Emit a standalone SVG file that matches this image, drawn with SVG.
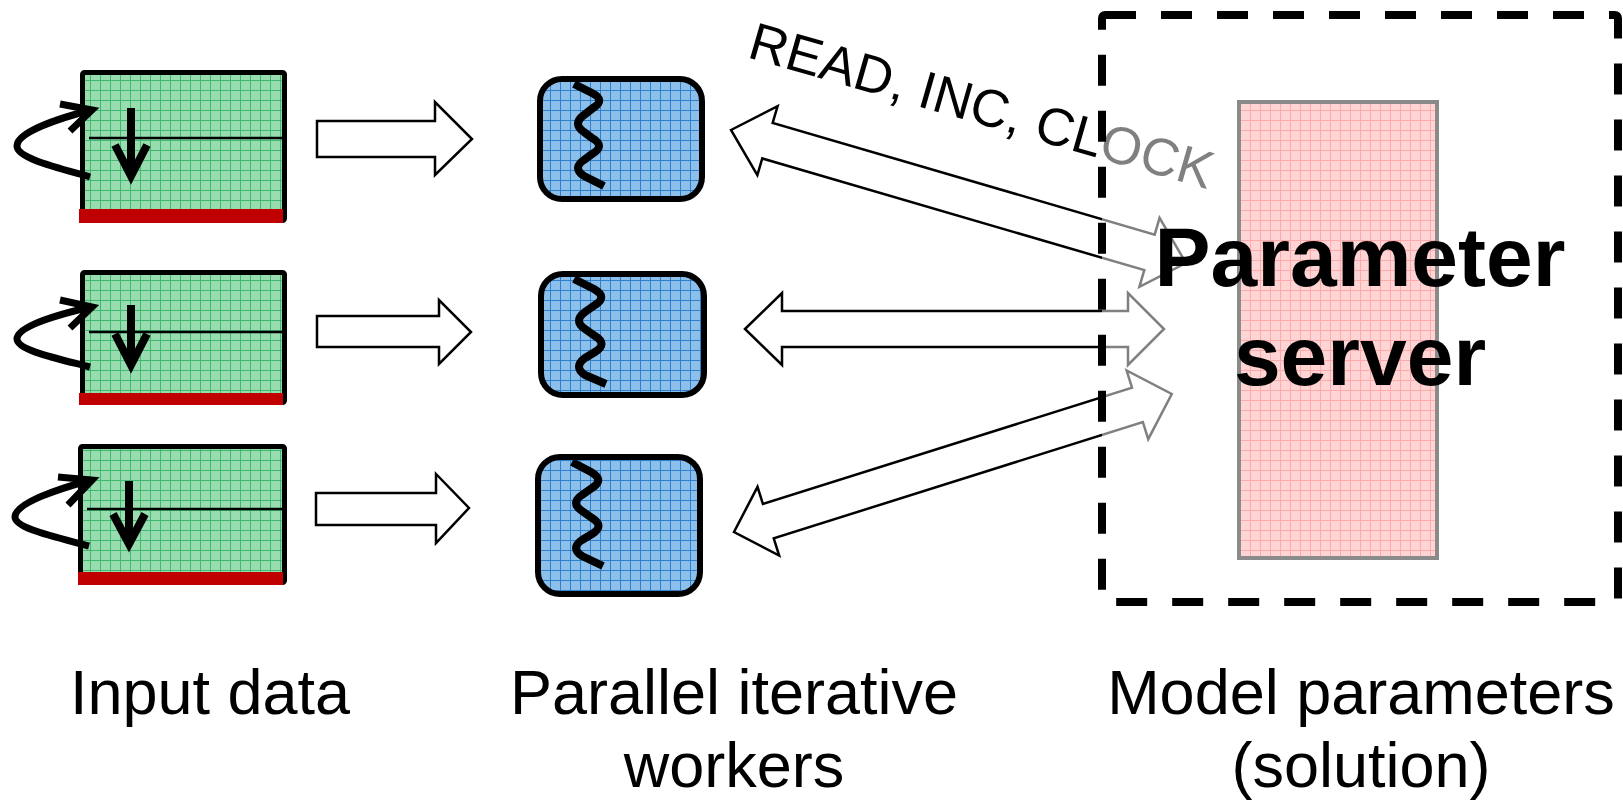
<svg xmlns="http://www.w3.org/2000/svg" width="1623" height="803" viewBox="0 0 1623 803">
<defs>
<pattern id="pg" width="10" height="10" patternUnits="userSpaceOnUse"><rect width="10" height="10" fill="#98dcb0"/><path d="M0,0.5H10M0.5,0V10" stroke="#3fb870" stroke-width="1"/></pattern>
<pattern id="pb" width="10" height="10" patternUnits="userSpaceOnUse"><rect width="10" height="10" fill="#8cbfe9"/><path d="M0,0.5H10M0.5,0V10" stroke="#2f80cc" stroke-width="1"/></pattern>
<pattern id="pp" width="10" height="10" patternUnits="userSpaceOnUse"><rect width="10" height="10" fill="#ffd4d4"/><path d="M0,0.5H10M0.5,0V10" stroke="#ffaaaa" stroke-width="1"/></pattern>
</defs>
<style>
.box{fill:url(#pg);stroke:#000;stroke-width:5}
.red{fill:#c00000}
.thin{stroke:#000;stroke-width:2.5;fill:none}
.loop{stroke:#000;stroke-width:7;fill:none;stroke-linecap:butt}
.down{stroke:#000;stroke-width:8;fill:none;stroke-linejoin:miter}
.worker{fill:url(#pb);stroke:#000;stroke-width:6}
.spring{stroke:#000;stroke-width:8;fill:none;stroke-linejoin:round}
.blk{fill:#fff;stroke:#000;stroke-width:2.5;stroke-linejoin:miter}
.lbl{font-family:"Liberation Sans",Arial,sans-serif;font-size:63px;fill:#000;text-anchor:middle}
</style>

<g id="input1">
<rect class="box" x="82.5" y="72.5" width="202" height="148" rx="2"/>
<rect class="red" x="79" y="209" width="204" height="14"/>
<line class="thin" x1="89" y1="138" x2="285" y2="138"/>
<path class="loop" d="M90,177 C55,167 17,158 17,146 C17,132 60,118 91,110"/>
<path class="loop" d="M60,104 L92,110 L70,131"/>
<path class="down" d="M131,108 V172 M115,145 L131,176 L147,145"/>
</g>
<g id="input2">
<rect class="box" x="82.5" y="272.5" width="202" height="130" rx="2"/>
<rect class="red" x="79" y="393" width="204" height="12"/>
<line class="thin" x1="89" y1="332" x2="285" y2="332"/>
<path class="loop" d="M90,367 C55,358 17,350 17,339 C17,326 60,314 91,307"/>
<path class="loop" d="M60,300 L92,307 L70,328"/>
<path class="down" d="M131,305 V361 M115,334 L131,365 L147,334"/>
</g>
<g id="input3">
<rect class="box" x="80.5" y="446.5" width="204" height="136" rx="2"/>
<rect class="red" x="78" y="572" width="205" height="13"/>
<line class="thin" x1="87" y1="509" x2="284" y2="509"/>
<path class="loop" d="M89,546 C52,536 15,528 15,517 C15,503 58,489 91,480"/>
<path class="loop" d="M58,477 L92,480 L68,505"/>
<path class="down" d="M129,481 V540 M113,514 L129,544 L145,514"/>
</g>

<g id="worker1">
<rect class="worker" x="540" y="79" width="162" height="120" rx="22"/>
<path class="spring" d="M574,84 L592,93 Q606,100 593,108 L584,115 Q572,124 584,132 L592,138 Q606,146 592,154 L584,160 Q572,168 584,176 L604,186"/>
</g>
<g id="worker2">
<rect class="worker" x="541" y="274" width="163" height="121" rx="22"/>
<path class="spring" d="M574,279 L594,289 Q608,297 595,305 L585,312 Q573,321 585,329 L595,336 Q608,344 595,352 L585,358 Q573,367 585,375 L606,384"/>
</g>
<g id="worker3">
<rect class="worker" x="538" y="457" width="162" height="137" rx="22"/>
<path class="spring" d="M572,462 L591,472 Q605,480 592,488 L582,495 Q570,503 582,511 L592,518 Q605,526 592,534 L582,540 Q570,548 582,556 L603,566"/>
</g>

<g id="connectors">
<polygon class="blk" points="317,121 435,121 435,102 472,139 435,175 435,157 317,157"/>
<polygon class="blk" points="317,316 439,316 439,300 471,332 439,364 439,347 317,347"/>
<polygon class="blk" points="316,493 436,493 436,474 469,508 436,543 436,525 316,525"/>
<polygon class="blk" transform="translate(731,130) rotate(16.3)" points="0,0 38,-36 38,-18.5 436,-18.5 436,-36 474,0 436,36 436,18.5 38,18.5 38,36"/>
<polygon class="blk" points="745,329 782,293 782,311 1128,311 1128,293 1164,329 1128,365 1128,347 782,347 782,365"/>
<polygon class="blk" transform="translate(734,532) rotate(-17.5)" points="0,0 36,-36 36,-18 423,-18 423,-36 459,0 423,36 423,18 36,18 36,36"/>
</g>

<text id="ops" transform="translate(746,57) rotate(16)" font-family="Liberation Sans, Arial, sans-serif" font-size="53" fill="#000">READ, INC, CLOCK</text>

<g id="model">
<rect x="1102" y="15" width="516" height="587" rx="3" fill="#fff" fill-opacity="0.5" stroke="#000" stroke-width="8" stroke-dasharray="31 25"/>
<rect x="1239" y="102" width="198" height="456" fill="url(#pp)" stroke="#8a8a8a" stroke-width="4"/>
<text x="1360" y="286" font-family="Liberation Sans, Arial, sans-serif" font-size="84" font-weight="bold" text-anchor="middle" fill="#000">Parameter</text>
<text x="1360" y="385" font-family="Liberation Sans, Arial, sans-serif" font-size="84" font-weight="bold" text-anchor="middle" fill="#000">server</text>
</g>

<g id="labels">
<text class="lbl" x="210" y="714">Input data</text>
<text class="lbl" x="734" y="714">Parallel iterative</text>
<text class="lbl" x="734" y="787">workers</text>
<text class="lbl" x="1361" y="714">Model parameters</text>
<text class="lbl" x="1361" y="787">(solution)</text>
</g>
</svg>
